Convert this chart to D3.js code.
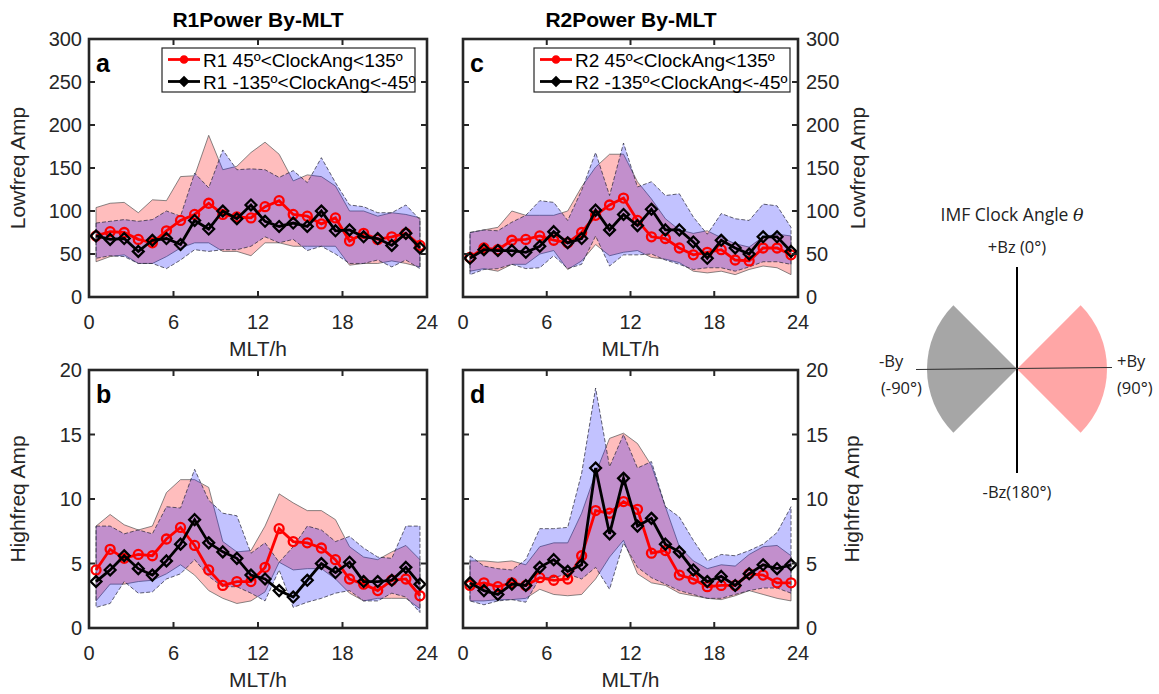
<!DOCTYPE html>
<html>
<head>
<meta charset="utf-8">
<script src="https://cdn.jsdelivr.net/npm/d3@7/dist/d3.min.js"></script>
<style>
  body { margin: 0; background: #fff; }
  svg { font-family: 'Liberation Sans', Arial, sans-serif; }
</style>
</head>
<body>
<div id="chart"></div>
<script>
// MLT bin centres (hours)
const mlt = [0.5, 1.5, 2.5, 3.5, 4.5, 5.5, 6.5, 7.5, 8.5, 9.5, 10.5, 11.5,
  12.5, 13.5, 14.5, 15.5, 16.5, 17.5, 18.5, 19.5, 20.5, 21.5, 22.5, 23.5]

// panel a : R1 low frequency
const r1LowPos = [71, 76, 75, 67, 63, 77, 89, 96, 109, 96, 93, 92, 105, 112, 96, 94, 85, 92, 65, 74, 67, 70, 74, 60]
const r1LowNeg = [71, 67, 68, 53, 66, 68, 61, 89, 79, 100, 91, 107, 88, 82, 86, 82, 100, 77, 78, 70, 68, 60, 74, 57]
const r1LowPosHi = [104, 109, 110, 98, 113, 112, 140, 141, 188, 148, 152, 168, 180, 166, 135, 142, 140, 129, 100, 100, 94, 98, 96, 92]
const r1LowPosLo = [41, 47, 49, 39, 39, 47, 57, 63, 63, 53, 53, 48, 63, 63, 59, 59, 59, 59, 37, 39, 39, 42, 39, 35]
const r1LowNegHi = [86, 88, 90, 88, 90, 100, 94, 144, 127, 171, 148, 149, 148, 139, 147, 133, 162, 133, 107, 105, 98, 98, 107, 90]
const r1LowNegLo = [45, 48, 47, 39, 39, 33, 43, 55, 53, 55, 55, 59, 70, 63, 67, 54, 59, 50, 39, 39, 43, 35, 43, 33]

// panel c : R2 low frequency
const r2LowPos = [46, 57, 55, 66, 67, 71, 66, 63, 75, 95, 107, 115, 89, 70, 68, 57, 49, 52, 55, 43, 42, 57, 57, 49]
const r2LowNeg = [45, 55, 54, 54, 52, 59, 76, 63, 68, 101, 78, 96, 83, 102, 78, 78, 64, 45, 66, 57, 50, 70, 70, 53]
const r2LowPosHi = [75, 78, 81, 100, 95, 95, 95, 100, 128, 151, 166, 166, 134, 114, 91, 78, 74, 77, 69, 62, 58, 70, 73, 71]
const r2LowPosLo = [30, 33, 30, 38, 38, 50, 54, 32, 42, 61, 48, 52, 54, 46, 44, 40, 30, 28, 30, 26, 32, 36, 34, 26]
const r2LowNegHi = [75, 78, 77, 87, 95, 112, 110, 89, 124, 168, 118, 179, 128, 134, 118, 120, 93, 73, 97, 91, 89, 108, 106, 81]
const r2LowNegLo = [26, 32, 33, 38, 33, 34, 48, 33, 38, 71, 36, 49, 49, 50, 43, 38, 32, 34, 34, 30, 35, 41, 41, 38]

// panel b : R1 high frequency
const r1HighPos = [4.5, 6.1, 5.4, 5.7, 5.6, 6.9, 7.8, 6.4, 4.5, 3.3, 3.6, 3.6, 4.7, 7.7, 6.7, 6.6, 6.2, 5.3, 3.8, 3.4, 2.9, 3.7, 3.8, 2.5]
const r1HighNeg = [3.6, 4.5, 5.6, 4.6, 4.1, 5.2, 6.5, 8.4, 6.6, 5.9, 5.4, 4.1, 3.8, 2.9, 2.4, 3.7, 5.0, 4.3, 5.1, 3.6, 3.6, 3.7, 4.7, 3.4]
const r1HighPosHi = [7.9, 8.8, 8.0, 7.6, 7.9, 10.5, 11.5, 11.5, 10.9, 6.7, 5.9, 6.0, 7.9, 10.4, 9.7, 9.1, 9.1, 8.4, 6.3, 5.5, 5.3, 5.9, 6.4, 5.3]
const r1HighPosLo = [2.1, 3.4, 3.4, 3.6, 3.7, 4.2, 4.9, 4.1, 2.9, 2.3, 1.9, 2.1, 2.8, 5.1, 4.5, 4.6, 4.6, 3.8, 2.7, 2.1, 2.3, 2.3, 2.3, 1.5]
const r1HighNegHi = [7.9, 7.9, 7.3, 7.6, 7.3, 9.4, 9.3, 12.3, 9.9, 8.9, 8.7, 5.8, 6.6, 5.1, 6.3, 7.9, 7.6, 6.7, 7.1, 6.2, 5.5, 5.4, 7.9, 7.9]
const r1HighNegLo = [1.6, 1.9, 3.6, 2.7, 2.8, 3.8, 4.2, 5.3, 4.0, 3.2, 3.2, 2.7, 2.1, 4.5, 1.6, 2.0, 2.3, 2.7, 2.9, 2.1, 2.1, 2.7, 2.4, 1.2]

// panel d : R2 high frequency
const r2HighPos = [3.3, 3.5, 3.2, 3.5, 3.3, 3.9, 3.7, 3.8, 5.6, 9.1, 8.9, 9.8, 9.2, 5.8, 6.0, 4.1, 3.8, 3.2, 3.3, 3.3, 4.2, 4.1, 3.5, 3.5]
const r2HighNeg = [3.5, 2.9, 2.6, 3.4, 3.3, 4.7, 5.3, 4.4, 4.9, 12.4, 7.3, 11.6, 7.9, 8.5, 6.5, 5.9, 4.5, 3.6, 4.0, 3.3, 4.2, 4.9, 4.6, 4.9]
const r2HighPosHi = [5.2, 5.2, 5.1, 5.2, 4.9, 6.3, 6.6, 6.6, 8.9, 12.0, 14.7, 15.1, 14.3, 12.6, 9.4, 6.3, 5.2, 4.6, 4.9, 4.8, 5.7, 6.3, 6.4, 5.6]
const r2HighPosLo = [2.1, 2.1, 2.2, 2.2, 2.3, 3.0, 2.6, 2.5, 2.6, 3.8, 5.5, 6.8, 4.2, 3.5, 3.3, 2.7, 2.5, 2.3, 2.2, 2.5, 2.9, 2.6, 2.3, 2.1]
const r2HighNegHi = [5.6, 4.8, 4.6, 4.5, 5.3, 7.7, 7.7, 7.8, 12.0, 18.6, 12.5, 15.0, 12.4, 12.9, 9.4, 8.6, 6.8, 5.2, 5.7, 5.6, 6.0, 6.5, 7.4, 9.4]
const r2HighNegLo = [2.1, 1.8, 2.1, 2.2, 2.0, 3.9, 3.9, 4.2, 3.8, 4.7, 3.0, 6.6, 4.7, 3.9, 3.4, 2.9, 2.6, 2.3, 2.3, 2.6, 2.9, 3.1, 3.1, 2.7]

const xTicks = [0, 6, 12, 18, 24]
const lowTicks = [0, 50, 100, 150, 200, 250, 300]
const highTicks = [0, 5, 10, 15, 20]

// clock angle sectors (deg, 0 = +Bz, clockwise)
const sectorNames = ['pos', 'neg']
const sectorStart = [45, -135]
const sectorEnd = [135, -45]

const W = 1159, H = 694
const axisColor = '#262626'

const svg = d3.select('#chart').append('svg')
  .attr('width', W).attr('height', H)

const panels = [
  { id: 'a', x0: 89, x1: 427, y0: 39, y1: 297, max: 300, ticks: lowTicks, side: 'left', ring: 'R1',
    pos: r1LowPos, neg: r1LowNeg, posHi: r1LowPosHi, posLo: r1LowPosLo, negHi: r1LowNegHi, negLo: r1LowNegLo },
  { id: 'c', x0: 463, x1: 798, y0: 39, y1: 297, max: 300, ticks: lowTicks, side: 'right', ring: 'R2',
    pos: r2LowPos, neg: r2LowNeg, posHi: r2LowPosHi, posLo: r2LowPosLo, negHi: r2LowNegHi, negLo: r2LowNegLo },
  { id: 'b', x0: 89, x1: 427, y0: 370, y1: 628, max: 20, ticks: highTicks, side: 'left',
    pos: r1HighPos, neg: r1HighNeg, posHi: r1HighPosHi, posLo: r1HighPosLo, negHi: r1HighNegHi, negLo: r1HighNegLo },
  { id: 'd', x0: 463, x1: 798, y0: 370, y1: 628, max: 20, ticks: highTicks, side: 'right',
    pos: r2HighPos, neg: r2HighNeg, posHi: r2HighPosHi, posLo: r2HighPosLo, negHi: r2HighNegHi, negLo: r2HighNegLo }
]

panels.forEach(p => {
  const x = d3.scaleLinear().domain([0, 24]).range([p.x0, p.x1])
  const y = d3.scaleLinear().domain([0, p.max]).range([p.y1, p.y0])
  const g = svg.append('g')

  g.append('clipPath').attr('id', 'clip-' + p.id)
    .append('rect').attr('x', p.x0).attr('y', p.y0)
    .attr('width', p.x1 - p.x0).attr('height', p.y1 - p.y0)

  const plot = g.append('g').attr('clip-path', 'url(#clip-' + p.id + ')')

  const band = (hi, lo) => d3.area()
    .x((d, i) => x(mlt[i]))
    .y0((d, i) => y(lo[i]))
    .y1((d, i) => y(hi[i]))(hi)

  // shaded spread, red first then blue on top
  plot.append('path').attr('d', band(p.posHi, p.posLo))
    .attr('fill', 'rgb(255,0,0)').attr('fill-opacity', 0.26)
    .attr('stroke', '#555').attr('stroke-width', 0.7)
  plot.append('path').attr('d', band(p.negHi, p.negLo))
    .attr('fill', 'rgb(0,0,255)').attr('fill-opacity', 0.24)
    .attr('stroke', '#223').attr('stroke-width', 0.7).attr('stroke-dasharray', '4,2')

  const line = vals => d3.line().x((d, i) => x(mlt[i])).y(d => y(d))(vals)

  plot.append('path').attr('d', line(p.pos))
    .attr('fill', 'none').attr('stroke', '#ff0000').attr('stroke-width', 2.8)
  plot.selectAll('.ci').data(p.pos).enter().append('circle')
    .attr('cx', (d, i) => x(mlt[i])).attr('cy', d => y(d)).attr('r', 4.5)
    .attr('fill', 'none').attr('stroke', '#ff0000').attr('stroke-width', 2.3)

  plot.append('path').attr('d', line(p.neg))
    .attr('fill', 'none').attr('stroke', '#000').attr('stroke-width', 2.8)
  plot.selectAll('.di').data(p.neg).enter().append('path')
    .attr('d', d3.symbol().type(d3.symbolDiamond2).size(75))
    .attr('transform', (d, i) => 'translate(' + x(mlt[i]) + ',' + y(d) + ')')
    .attr('fill', 'none').attr('stroke', '#000').attr('stroke-width', 2.3)

  // box with inward ticks on all sides
  const tl = 6
  g.append('rect').attr('x', p.x0).attr('y', p.y0)
    .attr('width', p.x1 - p.x0).attr('height', p.y1 - p.y0)
    .attr('fill', 'none').attr('stroke', axisColor).attr('stroke-width', 2.6)
  xTicks.forEach(t => {
    g.append('line').attr('x1', x(t)).attr('x2', x(t)).attr('y1', p.y1).attr('y2', p.y1 - tl)
      .attr('stroke', axisColor).attr('stroke-width', 2)
    g.append('line').attr('x1', x(t)).attr('x2', x(t)).attr('y1', p.y0).attr('y2', p.y0 + tl)
      .attr('stroke', axisColor).attr('stroke-width', 2)
    g.append('text').attr('x', x(t)).attr('y', p.y1 + 32)
      .attr('text-anchor', 'middle').attr('font-size', 20).attr('fill', axisColor).text(t)
  })
  p.ticks.forEach(t => {
    g.append('line').attr('x1', p.x0).attr('x2', p.x0 + tl).attr('y1', y(t)).attr('y2', y(t))
      .attr('stroke', axisColor).attr('stroke-width', 2)
    g.append('line').attr('x1', p.x1).attr('x2', p.x1 - tl).attr('y1', y(t)).attr('y2', y(t))
      .attr('stroke', axisColor).attr('stroke-width', 2)
    g.append('text')
      .attr('x', p.side === 'left' ? p.x0 - 7 : p.x1 + 8)
      .attr('y', y(t) + 7)
      .attr('text-anchor', p.side === 'left' ? 'end' : 'start')
      .attr('font-size', 20).attr('fill', axisColor).text(t)
  })

  g.append('text').attr('x', (p.x0 + p.x1) / 2).attr('y', p.y1 + 59)
    .attr('text-anchor', 'middle').attr('font-size', 21).attr('fill', axisColor).text('MLT/h')

  const yl = p.max === 300 ? 'Lowfreq Amp' : 'Highfreq Amp'
  const ylx = p.side === 'left' ? 25 : (p.max === 300 ? 865 : 859)
  g.append('text')
    .attr('transform', 'translate(' + ylx + ',' + (p.y0 + p.y1) / 2 + ') rotate(-90)')
    .attr('text-anchor', 'middle').attr('font-size', 21).attr('fill', axisColor).text(yl)

  g.append('text').attr('x', p.x0 + 7).attr('y', p.y0 + 33)
    .attr('font-size', 25).attr('font-weight', 'bold').attr('fill', '#000').text(p.id)

  if (p.ring) {
    const lx = p.id === 'a' ? 162 : 534
    const lw = p.id === 'a' ? 253 : 256
    const leg = g.append('g')
    leg.append('rect').attr('x', lx).attr('y', 48).attr('width', lw).attr('height', 44)
      .attr('fill', '#fff').attr('stroke', axisColor).attr('stroke-width', 1.2)
    const rows = [
      { label: p.ring + ' 45º<ClockAng<135º', color: '#ff0000', shape: 'circle' },
      { label: p.ring + ' -135º<ClockAng<-45º', color: '#000', shape: 'diamond' }
    ]
    rows.forEach((r, k) => {
      const cy = 59.5 + k * 22
      leg.append('line').attr('x1', lx + 6).attr('x2', lx + 38).attr('y1', cy).attr('y2', cy)
        .attr('stroke', r.color).attr('stroke-width', 2.8)
      if (r.shape === 'circle') {
        leg.append('circle').attr('cx', lx + 22).attr('cy', cy).attr('r', 3.5)
          .attr('fill', r.color).attr('stroke', r.color).attr('stroke-width', 1.5)
      } else {
        leg.append('path').attr('d', d3.symbol().type(d3.symbolDiamond2).size(55))
          .attr('transform', 'translate(' + (lx + 22) + ',' + cy + ')')
          .attr('fill', r.color).attr('stroke', r.color).attr('stroke-width', 1.5)
      }
      leg.append('text').attr('x', lx + 41).attr('y', cy + 7)
        .attr('font-size', 19).attr('fill', '#000').text(r.label)
    })
  }
})

// column titles
svg.append('text').attr('x', 258).attr('y', 27).attr('text-anchor', 'middle')
  .attr('font-size', 21).attr('font-weight', 'bold').attr('fill', '#000').text('R1Power By-MLT')
svg.append('text').attr('x', 631).attr('y', 27).attr('text-anchor', 'middle')
  .attr('font-size', 21).attr('font-weight', 'bold').attr('fill', '#000').text('R2Power By-MLT')

// IMF clock angle diagram
const cx = 1017, cy = 369, R = 90
const clock = svg.append('g').attr('font-family', "'Open Sans', 'Noto Sans', sans-serif")
  .attr('font-size', 16.5).attr('fill', '#222')
const arc = d3.arc().innerRadius(0).outerRadius(R)
sectorNames.forEach((n, i) => {
  clock.append('path')
    .attr('d', arc({ startAngle: sectorStart[i] * Math.PI / 180, endAngle: sectorEnd[i] * Math.PI / 180 }))
    .attr('transform', 'translate(' + cx + ',' + cy + ')')
    .attr('fill', n === 'pos' ? '#ffa6a6' : '#a6a6a6')
})
clock.append('line').attr('x1', cx).attr('x2', cx).attr('y1', 267).attr('y2', 473)
  .attr('stroke', '#000').attr('stroke-width', 2)
clock.append('line').attr('x1', 916).attr('x2', 1112).attr('y1', 369.5).attr('y2', 367.5)
  .attr('stroke', '#333').attr('stroke-width', 1.2)

const ttl = clock.append('text').attr('x', 1012).attr('y', 221).attr('text-anchor', 'middle')
  .attr('font-size', 17.5)
ttl.append('tspan').text('IMF Clock Angle ')
ttl.append('tspan').attr('font-style', 'italic').attr('font-family', "'DejaVu Serif', serif").text('θ')
clock.append('text').attr('x', 1017).attr('y', 253).attr('text-anchor', 'middle').text('+Bz (0°)')
clock.append('text').attr('x', 1017).attr('y', 498).attr('text-anchor', 'middle').text('-Bz(180°)')
clock.append('text').attr('x', 879).attr('y', 367).text('-By')
clock.append('text').attr('x', 881).attr('y', 394).text('(-90°)')
clock.append('text').attr('x', 1117).attr('y', 367).text('+By')
clock.append('text').attr('x', 1117).attr('y', 394).text('(90°)')
</script>
</body>
</html>
